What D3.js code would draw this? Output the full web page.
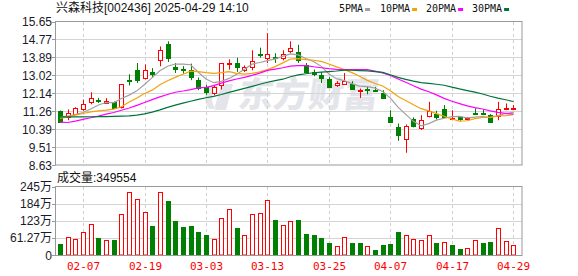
<!DOCTYPE html>
<html>
<head>
<meta charset="utf-8">
<script src="https://cdn.jsdelivr.net/npm/d3@7"></script>
<style>
  html, body { margin: 0; padding: 0; background: #fff; }
  svg { display: block; }
</style>
</head>
<body>
<div id="chart"></div>
<script>
// ==============================
// K-line chart: 兴森科技 daily
// ==============================

// --- Data ---
const dates = ["01-27","02-05","02-06","02-07","02-10","02-11","02-12","02-13","02-14","02-17",
  "02-18","02-19","02-20","02-21","02-24","02-25","02-26","02-27","02-28","03-03",
  "03-04","03-05","03-06","03-07","03-10","03-11","03-12","03-13","03-14","03-17",
  "03-18","03-19","03-20","03-21","03-24","03-25","03-26","03-27","03-28","03-31",
  "04-01","04-02","04-03","04-07","04-08","04-09","04-10","04-11","04-14","04-15",
  "04-16","04-17","04-18","04-21","04-22","04-23","04-24","04-25","04-28","04-29"];

const opens = [11.26,10.98,11.12,11.36,11.69,11.83,11.64,11.69,11.47,12.81,
  13.30,12.89,13.16,13.75,14.53,13.42,13.34,13.26,12.79,12.43,
  12.13,12.53,13.58,13.62,13.30,13.42,14.08,13.88,13.91,13.88,
  14.20,14.15,13.54,13.18,13.05,12.86,12.52,12.61,12.61,12.24,
  12.35,12.32,12.13,10.98,10.50,9.88,10.86,10.42,11.02,11.13,
  11.36,10.87,10.97,10.87,11.15,11.15,11.07,11.03,11.39,11.39];

const highs = [11.30,11.35,11.46,11.83,12.19,11.91,11.90,11.74,12.57,13.07,
  13.62,13.55,13.37,14.43,14.68,13.62,13.47,13.59,12.91,12.55,
  12.50,13.62,13.80,13.88,13.50,14.24,14.37,15.08,14.10,14.24,
  14.68,14.51,13.62,13.30,13.18,12.93,12.73,13.13,12.73,12.37,
  12.45,12.45,12.29,11.31,10.66,10.61,10.96,11.07,11.72,11.28,
  11.56,11.31,10.97,10.98,11.41,11.35,11.12,11.72,11.64,11.56];

const lows = [10.72,10.82,11.10,11.28,11.60,11.66,11.62,11.38,11.39,12.52,
  12.64,12.81,12.93,13.46,13.67,13.13,13.10,12.78,12.29,12.06,
  12.04,12.32,13.30,13.18,13.18,13.26,13.88,13.62,13.62,13.75,
  14.10,13.62,13.13,12.97,12.64,12.40,12.45,12.56,12.33,11.91,
  12.09,12.20,11.88,10.74,9.81,9.23,10.47,10.34,10.96,10.86,
  10.94,10.86,10.79,10.82,11.07,11.07,10.69,10.82,11.31,11.31];

const closes = [10.74,11.15,11.44,11.59,11.91,11.74,11.75,11.43,12.57,12.76,
  12.78,13.30,13.10,14.24,13.88,13.34,13.28,12.93,12.40,12.22,
  12.45,13.62,13.64,13.40,13.44,13.72,14.02,14.08,13.84,14.06,
  14.33,13.78,13.18,13.10,12.89,12.45,12.62,12.73,12.37,12.29,
  12.30,12.25,11.93,10.74,10.09,10.53,10.54,10.82,11.28,10.96,
  10.98,10.95,10.87,10.92,11.12,11.11,10.74,11.35,11.42,11.42];

// volume in 万
const volumes = [39,63,56,81,110,60,53,53,146,226,
  201,155,103,226,192,121,99,103,82,71,
  56,134,166,95,70,146,152,198,127,109,
  120,124,75,70,60,43,31,63,43,43,
  31,18,36,39,82,70,56,53,70,43,
  45,36,21,24,52,43,46,95,50,34.96];

// moving-average values before the window is full
const ma5Lead = [10.98,11.02,11.10,11.20];
const ma10Lead = [10.91,10.98,11.07,11.15,11.23,11.28,11.31,11.36,11.48];
const ma20Lead = [10.73,10.71,10.78,10.86,10.94,11.02,11.12,11.20,11.31,11.42,
  11.55,11.69,11.83,11.96,12.08,12.19,12.25,12.32,12.40];
const ma30Lead = [10.98,10.98,10.98,10.98,10.99,11.00,11.00,11.01,11.02,11.03,
  11.07,11.13,11.22,11.33,11.45,11.56,11.66,11.75,11.84,11.92,
  11.99,12.08,12.18,12.28,12.38,12.48,12.58,12.68,12.76];

const priceTicks = [15.65,14.77,13.89,13.02,12.14,11.26,10.39,9.51,8.63];
const volTicks = [0,61.27,122.54,183.81,245.08];
const volTickLabels = ["0","61.27万","123万","184万","245万"];
const dateTicks = ["02-07","02-19","03-03","03-13","03-25","04-07","04-17","04-29"];
const maNames = ["5PMA","10PMA","20PMA","30PMA"];
const maPeriods = [5,10,20,30];

// --- Colors ---
const UP = "#ff0000", DOWN = "#008000";
const maColors = ["#a0a0a0","#f2a20c","#ff00ff","#00733a"];
const CJK = "'Liberation Sans','Noto Sans CJK SC',sans-serif";
const MONO = "'DejaVu Sans Mono',monospace";

// --- SVG setup ---
const width = 578, height = 276;
const left = 55.5, right = 522;
const svg = d3.select("#chart").append("svg")
  .attr("width", width)
  .attr("height", height);

// --- Scales ---
const x = d3.scalePoint().domain(dates).range([60, 513.3]);
const y = d3.scaleLinear().domain([8.63, 15.65]).range([165, 21.5]);
const yv = d3.scaleLinear().domain([0, 245.08]).range([255, 186.5]);
const cx = d => Math.round(x(d)) + 0.5;

// --- Moving averages ---
function movingAvg(n, lead) {
  return closes.map((c, i) => {
    if (i < n - 1) return lead[i];
    return d3.mean(closes.slice(i - n + 1, i + 1));
  });
}
const maSeries = [movingAvg(5, ma5Lead), movingAvg(10, ma10Lead),
  movingAvg(20, ma20Lead), movingAvg(30, ma30Lead)];

// --- Watermark ---
const wm = svg.append("g").attr("fill", "#e4e5ea");
wm.append("path")
  .attr("d", "M214,84 C204,88 203,104 210,109 L216,109 C210,103 211,92 219,88 Z M221,84 L233,84 L226,110 L214,110 Z")
  .attr("fill", "#e4e5ea");
wm.append("text")
  .attr("x", 238).attr("y", 107)
  .attr("transform", "skewX(-8) translate(14,0)")
  .attr("font-family", "'Noto Sans CJK SC',sans-serif")
  .attr("font-weight", 900)
  .attr("font-size", 35)
  .text("东方财富");

// --- Grid: price panel ---
const grid = svg.append("g");
grid.selectAll("line.h")
  .data(priceTicks.slice(1, -1))
  .join("line")
  .attr("x1", left).attr("x2", right)
  .attr("y1", d => Math.round(y(d)) + 0.5).attr("y2", d => Math.round(y(d)) + 0.5)
  .attr("stroke", "#d4d4d4");
grid.selectAll("line.v")
  .data(dateTicks)
  .join("line")
  .attr("x1", d => cx(d)).attr("x2", d => cx(d))
  .attr("y1", 22).attr("y2", 165)
  .attr("stroke", "#cfcfcf")
  .attr("stroke-dasharray", "3,3");

// --- Grid: volume panel ---
const vgrid = svg.append("g");
vgrid.selectAll("line")
  .data(volTicks.slice(1, -1))
  .join("line")
  .attr("x1", left).attr("x2", right)
  .attr("y1", d => Math.round(yv(d)) + 0.5).attr("y2", d => Math.round(yv(d)) + 0.5)
  .attr("stroke", "#d4d4d4");
vgrid.selectAll("line.v")
  .data(dateTicks)
  .join("line")
  .attr("x1", d => cx(d)).attr("x2", d => cx(d))
  .attr("y1", 187).attr("y2", 255)
  .attr("stroke", "#cfcfcf")
  .attr("stroke-dasharray", "3,3");

// --- Candles ---
const candles = dates.map((d, i) => ({
  date: d, o: opens[i], h: highs[i], l: lows[i], c: closes[i]
}));
const candleG = svg.append("g")
  .selectAll("g")
  .data(candles)
  .join("g");
candleG.append("line")
  .attr("x1", d => cx(d.date)).attr("x2", d => cx(d.date))
  .attr("y1", d => y(d.h)).attr("y2", d => y(d.l))
  .attr("stroke", d => d.c >= d.o ? UP : DOWN);
candleG.append("rect")
  .attr("x", d => cx(d.date) - 2)
  .attr("width", 4)
  .attr("y", d => Math.round(y(Math.max(d.o, d.c))) + 0.5)
  .attr("height", d => Math.max(0.01, Math.round(y(Math.min(d.o, d.c))) - Math.round(y(Math.max(d.o, d.c)))))
  .attr("fill", d => d.c >= d.o ? "#fff" : DOWN)
  .attr("stroke", d => d.c >= d.o ? UP : DOWN);

// --- MA lines ---
const line = d3.line()
  .x((d, i) => x(dates[i]))
  .y(d => y(d));
svg.append("g")
  .selectAll("path")
  .data(maSeries)
  .join("path")
  .attr("d", line)
  .attr("fill", "none")
  .attr("stroke", (d, i) => maColors[i])
  .attr("stroke-width", 1.2);

// --- Volume bars (colour by close vs previous close) ---
const volUp = (i) => i === 0 ? closes[0] >= opens[0] : closes[i] >= closes[i - 1];
svg.append("g")
  .selectAll("rect")
  .data(volumes)
  .join("rect")
  .attr("x", (d, i) => cx(dates[i]) - 2)
  .attr("width", 4)
  .attr("y", d => Math.round(yv(d)) + 0.5)
  .attr("height", d => 255 - Math.round(yv(d)) - 0.5)
  .attr("fill", (d, i) => volUp(i) ? "#fff" : DOWN)
  .attr("stroke", (d, i) => volUp(i) ? UP : DOWN);

// --- Borders ---
svg.append("rect")
  .attr("x", left).attr("y", 21.5)
  .attr("width", right - left).attr("height", 165 - 21.5)
  .attr("fill", "none").attr("stroke", "#999");
svg.append("rect")
  .attr("x", left).attr("y", 186.5)
  .attr("width", right - left).attr("height", 255.5 - 186.5)
  .attr("fill", "none").attr("stroke", "#999");

// --- Y axis labels: price ---
const yAxis = svg.append("g");
yAxis.selectAll("line")
  .data(priceTicks)
  .join("line")
  .attr("x1", 52).attr("x2", left)
  .attr("y1", d => Math.round(y(d)) + 0.5).attr("y2", d => Math.round(y(d)) + 0.5)
  .attr("stroke", "#999");
yAxis.selectAll("text")
  .data(priceTicks)
  .join("text")
  .attr("x", 52)
  .attr("y", d => y(d) + 4.5)
  .attr("text-anchor", "end")
  .attr("font-family", CJK)
  .attr("font-size", 12)
  .attr("fill", "#1a1a2a")
  .text(d => d.toFixed(2));

// --- Y axis labels: volume ---
const vAxis = svg.append("g");
vAxis.selectAll("line")
  .data(volTicks)
  .join("line")
  .attr("x1", 52).attr("x2", left)
  .attr("y1", d => Math.round(yv(d)) + 0.5).attr("y2", d => Math.round(yv(d)) + 0.5)
  .attr("stroke", "#999");
vAxis.selectAll("text")
  .data(volTicks)
  .join("text")
  .attr("x", 52)
  .attr("y", d => yv(d) + 4.5)
  .attr("text-anchor", "end")
  .attr("font-family", CJK)
  .attr("font-size", 12)
  .attr("fill", "#1a1a2a")
  .text((d, i) => volTickLabels[i]);

// --- X axis labels ---
svg.append("g")
  .selectAll("text")
  .data(dateTicks)
  .join("text")
  .attr("x", d => cx(d))
  .attr("y", 270)
  .attr("text-anchor", "middle")
  .attr("font-family", MONO)
  .attr("font-size", 11)
  .attr("fill", "#ff0000")
  .text(d => d);

// --- Title and volume caption ---
svg.append("text")
  .attr("x", 56).attr("y", 12)
  .attr("font-family", CJK)
  .attr("font-size", 12)
  .attr("fill", "#111")
  .text("兴森科技[002436] 2025-04-29 14:10");
svg.append("text")
  .attr("x", 57).attr("y", 182)
  .attr("font-family", CJK)
  .attr("font-size", 12)
  .attr("fill", "#111")
  .text("成交量:349554");

// --- Legend ---
const legendX = [339, 380, 426, 472];
const legend = svg.append("g")
  .selectAll("g")
  .data(maNames)
  .join("g")
  .attr("transform", (d, i) => `translate(${legendX[i]},0)`);
legend.append("text")
  .attr("x", 0).attr("y", 12)
  .attr("font-family", MONO)
  .attr("font-size", 10)
  .attr("fill", "#111")
  .text(d => d);
legend.append("rect")
  .attr("x", (d, i) => d.length * 6.02 + 2)
  .attr("y", 8).attr("width", 5).attr("height", 3)
  .attr("fill", (d, i) => maColors[i]);
</script>
</body>
</html>
